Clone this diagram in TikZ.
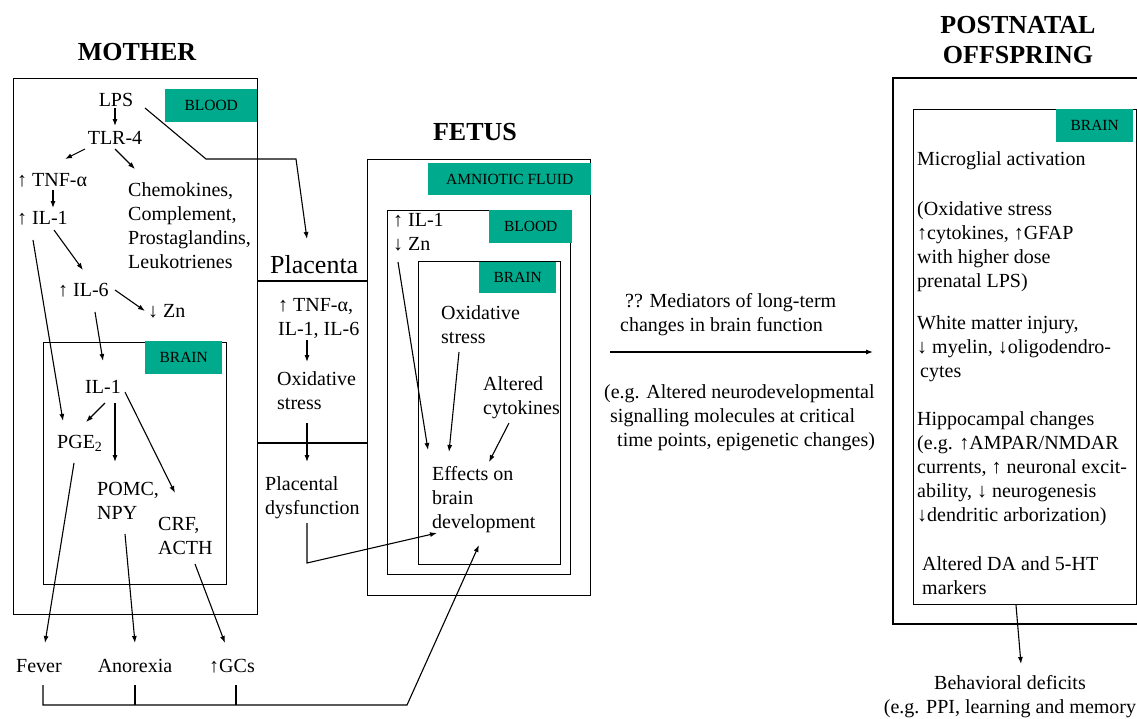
\documentclass[tikz,border=0pt]{standalone}
\usepackage{fontspec}
\setmainfont{Liberation Serif}
\usetikzlibrary{arrows.meta}
\definecolor{tealbox}{RGB}{0,170,140}
\begin{document}
\begin{tikzpicture}[x=1pt,y=-1pt,
  txt/.style={font=\fontsize{20}{24}\selectfont, inner sep=0pt, align=left},
  one/.style={txt, text height=14pt, text depth=4pt},
  ttl/.style={font=\fontsize{26}{30}\selectfont\bfseries, inner sep=0pt, align=center},
  tag/.style={fill=tealbox, inner sep=0pt, anchor=north west, font=\fontsize{15.5}{18}\selectfont},
  box/.style={draw, line width=1.2pt, inner sep=0pt, anchor=north west},
  arr/.style={line width=1.1pt, -{Latex[length=7pt,width=5pt]}},
  ln/.style={line width=1.1pt}]
\useasboundingbox (0,0) rectangle (1137,718);

% titles
\node[ttl] (tmother) at (137,52) {MOTHER};
\node[ttl] (tfetus) at (475,132) {FETUS};
\node[ttl] (tpost) at (1018,40) {POSTNATAL\\OFFSPRING};

% boxes
\node[box, minimum width=244pt, minimum height=536pt] (mbox) at (13,78) {};
\node[box, minimum width=183pt, minimum height=242pt] (mbrain) at (43,342) {};
\node[box, minimum width=223pt, minimum height=436pt] (fbox) at (367,159) {};
\node[box, minimum width=183pt, minimum height=364pt] (fblood) at (387,210) {};
\node[box, minimum width=142pt, minimum height=303pt] (fbrain) at (418,261) {};
\node[box, minimum width=223pt, minimum height=495pt] (pbrain) at (913,109) {};
\draw[line width=1.2pt] (1137,78) -| (893,624) -- (1137,624);

% placenta lines
\draw[line width=1.2pt] ([shift={(0,203)}]mbox.north east) -- ([shift={(0,122)}]fbox.north west);
\draw[line width=1.2pt] ([shift={(0,365)}]mbox.north east) -- ([shift={(0,284)}]fbox.north west);

% tags
\node[tag, minimum width=92pt, minimum height=33pt] (tblood) at (165,89) {BLOOD};
\node[tag, minimum width=77pt, minimum height=33pt] (tmbrain) at (145,341) {BRAIN};
\node[tag, minimum width=163pt, minimum height=32pt] (tamn) at (428,163) {AMNIOTIC FLUID};
\node[tag, minimum width=83pt, minimum height=33pt] (tfblood) at (489,210) {BLOOD};
\node[tag, minimum width=77pt, minimum height=31pt] (tfbrain) at (479,262) {BRAIN};
\node[tag, minimum width=77pt, minimum height=33pt] (tpbrain) at (1056,109) {BRAIN};

% mother texts
\node[one] (lps) at (116,101) {LPS};
\node[one] (tlr) at (115,139) {TLR-4};
\node[one, anchor=west] (tnf) at (17,181) {↑ TNF-α};
\node[one, anchor=west] (il1) at (17,219) {↑ IL-1};
\node[txt, anchor=north west] (chem) at (128,182) {Chemokines,\\Complement,\\Prostaglandins,\\Leukotrienes};
\node[one, anchor=west] (il6) at (58,291) {↑ IL-6};
\node[one, anchor=west] (zn) at (148,312) {↓ Zn};
\node[one] (bil1) at (103,388) {IL-1};
\node[one, anchor=west] (pge) at (57,443) {PGE\textsubscript{2}};
\node[txt, anchor=north west] (pomc) at (97,482) {POMC,\\NPY};
\node[txt, anchor=north west] (crf) at (158,517) {CRF,\\ACTH};
\node[one] (fever) at (39,667) {Fever};
\node[one] (anorexia) at (135,667) {Anorexia};
\node[one] (gcs) at (232,667) {↑GCs};

% placenta texts
\node[txt, font=\fontsize{26}{30}\selectfont, anchor=west] (placenta) at (270,265) {Placenta};
\node[txt, anchor=north west] (ptnf) at (278,298) {↑ TNF-α,\\IL-1, IL-6};
\node[txt, anchor=north west] (pox) at (277,371) {Oxidative\\stress};
\node[txt, anchor=north west] (pdys) at (265,476) {Placental\\dysfunction};

% fetus texts
\node[txt, anchor=north west] (fil) at (393,213) {↑ IL-1\\↓ Zn};
\node[txt, anchor=north west] (fox) at (441,305) {Oxidative\\stress};
\node[txt, anchor=north west] (falt) at (483,376) {Altered\\cytokines};
\node[txt, anchor=north west] (feff) at (432,466) {Effects on\\brain\\development};

% middle texts
\node[txt, anchor=north west] (med) at (620,293) {\hspace*{5pt}?? Mediators of long-term\\changes in brain function};
\node[txt, anchor=north west] (eg) at (604,384) {(e.g. Altered neurodevelopmental\\\hspace*{6pt}signalling molecules at critical\\\hspace*{13pt}time points, epigenetic changes)};

% postnatal texts
\node[one, anchor=west] (micro) at (917,160) {Microglial activation};
\node[txt, anchor=north west] (oxp) at (917,201) {(Oxidative stress\\↑cytokines, ↑GFAP\\with higher dose\\prenatal LPS)};
\node[txt, anchor=north west] (white) at (917,315) {White matter injury,\\↓ myelin, ↓oligodendro-\\\hspace*{3pt}cytes};
\node[txt, anchor=north west] (hippo) at (917,411) {Hippocampal changes\\(e.g. ↑AMPAR/NMDAR\\currents, ↑ neuronal excit-\\ability, ↓ neurogenesis\\↓dendritic arborization)};
\node[txt, anchor=north west] (altda) at (922,556) {Altered DA and 5-HT\\markers};
\node[txt, align=center, anchor=north] (beh) at (1010,675) {Behavioral deficits\\(e.g. PPI, learning and memory};

% mother connectors
\draw[arr] ([shift={(-1,7)}]lps.center) -- ([shift={(0,-13)}]tlr.center);
\draw[arr] ([shift={(-30,10)}]tlr.center) -- ([shift={(48,-22)}]tnf.west);
\draw[arr] ([shift={(0,10)}]tlr.center) -- ([shift={(7,-13)}]chem.north west);
\draw[arr] ([shift={(36,9)}]tnf.west) -- ([shift={(36,-11)}]il1.west);
\draw[arr] ([shift={(37,11)}]il1.west) -- ([shift={(25,-21)}]il6.west);
\draw[arr] ([shift={(57,-1)}]il6.west) -- ([shift={(-3,-1)}]zn.west);
\draw[arr] ([shift={(16,21)}]il1.west) -- ([shift={(6,-22)}]pge.west);
\draw[arr] ([shift={(37,21)}]il6.west) -- ([shift={(0,-27)}]bil1.center);
\draw[arr] ([shift={(2,15)}]bil1.center) -- ([shift={(29,-21)}]pge.west);
\draw[arr] ([shift={(12,15)}]bil1.center) -- ([shift={(18,-20)}]pomc.north west);
\draw[arr] ([shift={(22,4)}]bil1.center) -- ([shift={(17,-24)}]crf.north west);
\draw[arr] ([shift={(17,20)}]pge.west) -- ([shift={(6,-24)}]fever.center);
\draw[arr] ([shift={(28,52)}]pomc.north west) -- ([shift={(0,-24)}]anorexia.center);
\draw[arr] ([shift={(37,47)}]crf.north west) -- ([shift={(-7,-24)}]gcs.center);

% bracket to fetal brain
\coordinate (brk) at (407,705);
\draw[arr] ([shift={(4,18)}]fever.center) -- ++(0,20) -- (brk) -- ([shift={(47,79)}]feff.north west);
\draw[ln] ([shift={(0,18)}]anorexia.center) -- ++(0,20);
\draw[ln] ([shift={(4,18)}]gcs.center) -- ++(0,20);

% LPS to placenta
\coordinate (k1) at (206,159);
\coordinate (k2) at (296,159);
\draw[arr] ([shift={(29,7)}]lps.center) -- (k1) -- (k2) -- ([shift={(37,-26)}]placenta.west);

% placenta connectors
\draw[arr] ([shift={(29,42)}]ptnf.north west) -- ([shift={(30,-9)}]pox.north west);
\draw[arr] ([shift={(30,52)}]pox.north west) -- ([shift={(42,-14)}]pdys.north west);
\draw[arr] ([shift={(42,47)}]pdys.north west) -- ++(0,40) -- ([shift={(5,67)}]feff.north west);

% fetal connectors
\draw[arr] ([shift={(5,49)}]fil.north west) -- ([shift={(-4,-16)}]feff.north west);
\draw[arr] ([shift={(18,47)}]fox.north west) -- ([shift={(17,-14)}]feff.north west);
\draw[arr] ([shift={(26,47)}]falt.north west) -- ([shift={(57,-4)}]feff.north west);

% middle arrow
\draw[arr] ([shift={(19,193)}]fbox.north east) -- ([shift={(-40,243)}]pbrain.north west);

% postnatal to behavior
\draw[arr] ([shift={(103,0)}]pbrain.south west) -- ([shift={(11,-11)}]beh.north);
\end{tikzpicture}
\end{document}
